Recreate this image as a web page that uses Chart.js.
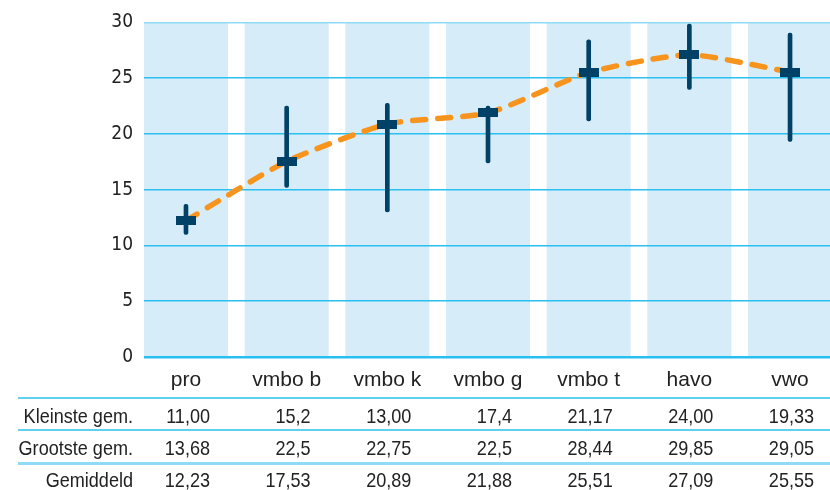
<!DOCTYPE html>
<html>
<head>
<meta charset="utf-8">
<script src="https://cdn.jsdelivr.net/npm/chart.js@4.4.1/dist/chart.umd.min.js"></script>
<style>
  html, body { margin: 0; padding: 0; background: #fff; }
  #wrap { width: 830px; height: 490px; }
</style>
</head>
<body>
<div id="wrap"><canvas id="scoreChart" width="830" height="490"></canvas></div>
<script>
// Data, as printed in the table under the chart
const levels = ['pro', 'vmbo b', 'vmbo k', 'vmbo g', 'vmbo t', 'havo', 'vwo'];
const smallest = ['11,00', '15,2', '13,00', '17,4', '21,17', '24,00', '19,33'];
const largest = ['13,68', '22,5', '22,75', '22,5', '28,44', '29,85', '29,05'];
const average = ['12,23', '17,53', '20,89', '21,88', '25,51', '27,09', '25,55'];
const rowLabels = ['Kleinste gem.', 'Grootste gem.', 'Gemiddeld'];
const yTicks = [0, 5, 10, 15, 20, 25, 30];

const num = s => parseFloat(s.replace(',', '.'));

const condensed = "'DejaVu Sans Condensed', 'Liberation Sans', sans-serif";
const regular = "'Liberation Sans', Arial, sans-serif";
const textColor = '#222';
const cyan = '#29c0ef';
const cyanLight = '#8fdbf6';
const navy = '#004168';
const orange = '#f7941d';

// mean marker: a flat rectangle
const marker = document.createElement('canvas');
marker.width = 20;
marker.height = 9;
const mctx = marker.getContext('2d');
mctx.fillStyle = navy;
mctx.fillRect(0, 0, 20, 9);

// text squeezed sideways to mimic the condensed face of the original
function narrowText(ctx, s, x, y) {
  ctx.save();
  ctx.translate(x, y);
  ctx.scale(0.86, 1);
  ctx.fillText(s, 0, 0);
  ctx.restore();
}

// light blue column behind each level
const columnsPlugin = {
  id: 'columns',
  beforeDraw(chart) {
    const { ctx, chartArea, scales } = chart;
    ctx.save();
    ctx.fillStyle = '#d6ecf9';
    levels.forEach((l, i) => {
      const x = scales.x.getPixelForValue(i);
      ctx.fillRect(x - 42, chartArea.top, 84, chartArea.bottom - chartArea.top);
    });
    ctx.restore();
  }
};

// level names + table of values below the plot
const tablePlugin = {
  id: 'table',
  afterDraw(chart) {
    const { ctx, scales } = chart;
    ctx.save();
    ctx.fillStyle = textColor;
    ctx.textBaseline = 'alphabetic';

    ctx.font = '21px ' + regular;
    ctx.textAlign = 'center';
    levels.forEach((l, i) => {
      ctx.fillText(l, scales.x.getPixelForValue(i), 386);
    });

    const rows = [smallest, largest, average];
    const rowY = [423, 455, 487];
    ctx.textAlign = 'right';
    rows.forEach((vals, r) => {
      narrowText(ctx, rowLabels[r], 133, rowY[r]);
      vals.forEach((v, i) => {
        narrowText(ctx, v, scales.x.getPixelForValue(i) + 24, rowY[r]);
      });
    });

    ctx.strokeStyle = cyan;
    ctx.lineWidth = 1.5;
    [398, 430].forEach(y => {
      ctx.beginPath();
      ctx.moveTo(18, y);
      ctx.lineTo(830, y);
      ctx.stroke();
    });
    ctx.strokeStyle = cyanLight;
    ctx.lineWidth = 3;
    ctx.beginPath();
    ctx.moveTo(18, 463.5);
    ctx.lineTo(830, 463.5);
    ctx.stroke();
    ctx.restore();
  }
};

new Chart(document.getElementById('scoreChart'), {
  data: {
    datasets: [
      {
        type: 'line',
        label: 'Gemiddeld',
        data: average.map((v, i) => ({ x: i, y: num(v) })),
        borderColor: orange,
        borderWidth: 5.5,
        borderDash: [13, 12],
        borderCapStyle: 'round',
        tension: 0.2,
        pointRadius: 0,
        order: 3
      },
      {
        type: 'bar',
        label: 'Spreiding',
        data: smallest.map((v, i) => ({ x: i, y: [num(v), num(largest[i])] })),
        backgroundColor: navy,
        barThickness: 4,
        borderRadius: 2,
        borderSkipped: false,
        order: 2
      },
      {
        type: 'line',
        label: 'Gemiddeld punt',
        data: average.map((v, i) => ({ x: i, y: num(v) })),
        showLine: false,
        pointStyle: marker,
        pointRadius: 10,
        order: 1
      }
    ]
  },
  options: {
    responsive: false,
    animation: false,
    layout: { autoPadding: false, padding: { top: 19, right: 0, bottom: 133, left: 0 } },
    plugins: {
      legend: { display: false },
      tooltip: { enabled: false }
    },
    scales: {
      x: {
        type: 'linear',
        display: false,
        offset: false,
        min: -0.417,
        max: 6.397
      },
      y: {
        min: 0,
        max: 30,
        afterBuildTicks: axis => { axis.ticks = yTicks.map(v => ({ value: v })); },
        afterFit: axis => { axis.width = 144; },
        border: { display: false },
        grid: {
          drawTicks: false,
          color: c => c.tick && c.tick.value === 30 ? cyanLight : cyan,
          lineWidth: c => c.tick && c.tick.value === 0 ? 2.5 : 1.5
        },
        ticks: {
          padding: 11,
          color: textColor,
          font: { family: condensed, size: 19 }
        }
      }
    }
  },
  plugins: [columnsPlugin, tablePlugin]
});
</script>
</body>
</html>
